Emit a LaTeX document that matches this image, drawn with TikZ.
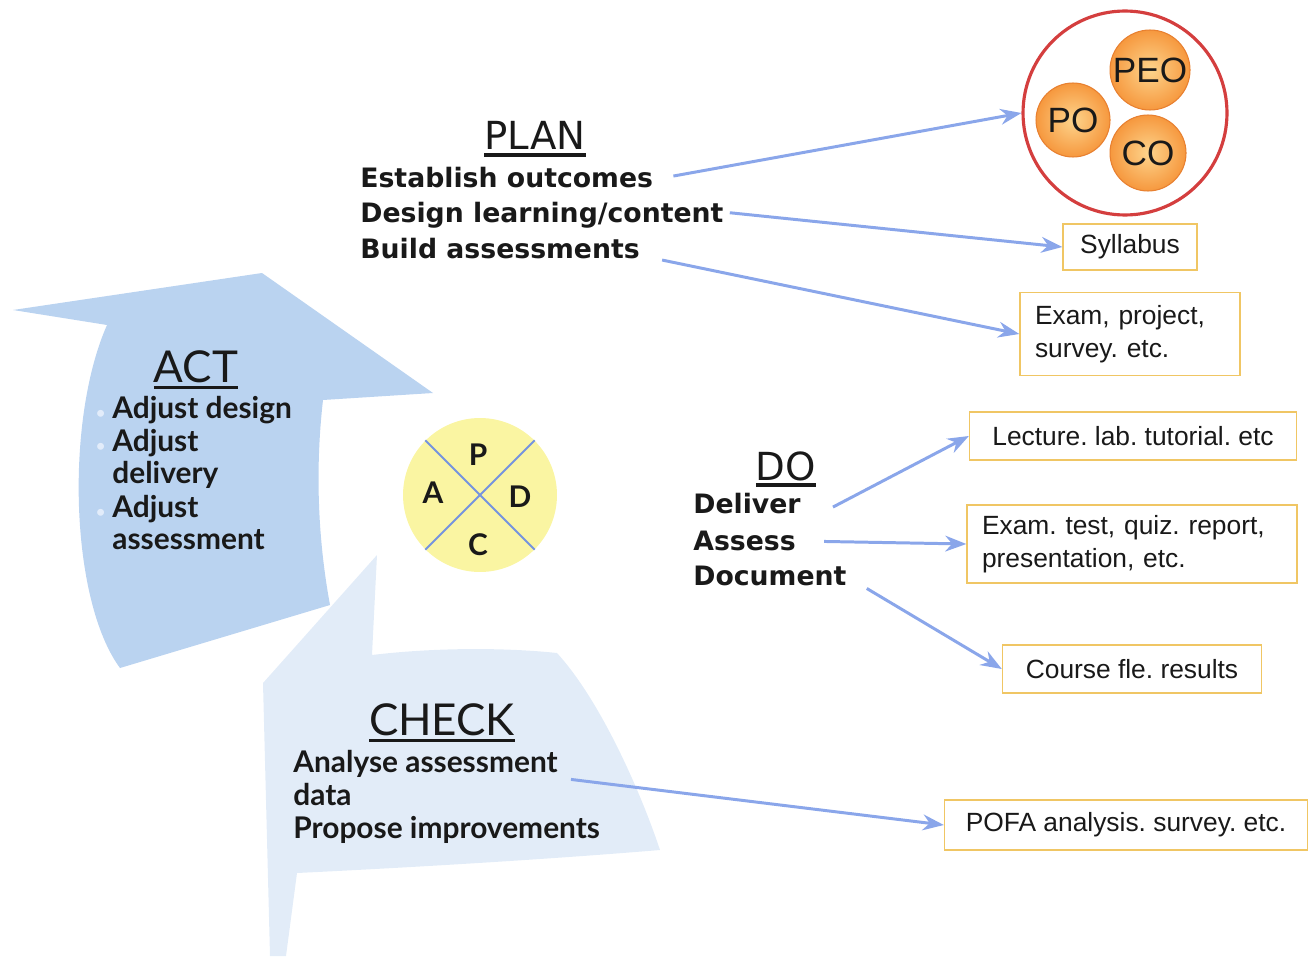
\documentclass[tikz,border=0pt]{standalone}
\usepackage{fontspec}
\setmainfont{Liberation Sans}
\newfontfamily\humfont{Lato}
\newfontfamily\verdfont{DejaVu Sans}
\usetikzlibrary{arrows.meta,calc}
\frenchspacing

\definecolor{ink}{RGB}{25,25,25}
\definecolor{actfill}{RGB}{186,211,240}
\definecolor{checkfill}{RGB}{226,236,248}
\definecolor{flowblue}{RGB}{138,166,234}
\definecolor{crossblue}{RGB}{118,148,222}
\definecolor{padfill}{RGB}{250,245,162}
\definecolor{boxline}{RGB}{240,198,100}
\definecolor{ringred}{RGB}{212,62,62}
\definecolor{ballin}{RGB}{253,212,140}
\definecolor{ballout}{RGB}{246,152,62}
\definecolor{ballrim}{RGB}{232,128,48}
\definecolor{bulc}{RGB}{226,236,250}

% heading with a thick underline
\newcommand{\headline}[3]{\setbox0=\hbox{#3}\leavevmode\rlap{\raisebox{-#1}{\rule{\wd0}{#2}}}\box0}
% hanging bullet for the ACT list
\newcommand{\actbul}{\llap{\textcolor{bulc}{\small\textbullet}\hspace{4pt}}}

\begin{document}
\begin{tikzpicture}[x=0.02cm,y=-0.02cm,
  txt/.style={inner sep=0pt,text=ink},
  planhead/.style={txt,font=\verdfont\fontsize{22}{26}\selectfont},
  plantxt/.style={txt,font=\verdfont\bfseries\fontsize{15.2}{18}\selectfont},
  cyclehead/.style={txt,font=\humfont\fontsize{25}{30}\selectfont},
  cycletxt/.style={txt,font=\humfont\bfseries\fontsize{17}{20}\selectfont},
  outbox/.style={draw=boxline,line width=0.8pt,fill=white,inner sep=0pt,
    text=ink,font=\fontsize{15}{18.5}\selectfont},
  flow/.style={draw=flowblue,line width=1.7pt,
    -{Stealth[length=12pt,width=9pt]}},
  ball/.style={circle,draw=ballrim,line width=0.6pt,inner sep=0pt,
    shading=radial,inner color=ballin,outer color=ballout,
    text=ink,font=\fontsize{20}{24}\selectfont},
  letter/.style={txt,font=\humfont\bfseries\fontsize{17}{20}\selectfont}]

\useasboundingbox (0,0) rectangle (1310,956);

% cycle arrows
\fill[checkfill] (377,555) -- (372,655)
  .. controls (430,648) and (500,647) .. (557,653)
  .. controls (600,700) and (640,790) .. (660,850)
  .. controls (540,860) and (400,868) .. (297,873)
  -- (286,956) -- (270,956) -- (263,683) -- cycle;
\fill[actfill] (13,310) -- (262,273) -- (433,393) -- (323,400)
  .. controls (315,470) and (318,540) .. (330,605)
  -- (120,668)
  .. controls (70,600) and (65,420) .. (107,325) -- cycle;

% PDCA disc
\node[circle,fill=padfill,minimum size=3.08cm,inner sep=0pt] (pdca) at (480,495) {};
\draw[crossblue,line width=1.1pt] (pdca.135) -- (pdca.-45);
\draw[crossblue,line width=1.1pt] (pdca.45) -- (pdca.-135);
\node[letter] (lp) at (478,455) {P};
\node[letter] (la) at (433,493) {A};
\node[letter] (ld) at (520,497) {D};
\node[letter] (lc) at (478,545) {C};

% ACT
\node[cyclehead,anchor=base] (acthd) at (196,382) {\headline{4pt}{1.6pt}{ACT}};
\node[cycletxt,anchor=base west] (a1) at (112,418) {\actbul Adjust design};
\node[cycletxt,anchor=base west] (a2) at (112,451) {\actbul Adjust};
\node[cycletxt,anchor=base west] (a3) at (112,483) {delivery};
\node[cycletxt,anchor=base west] (a4) at (112,517) {\actbul Adjust};
\node[cycletxt,anchor=base west] (a5) at (112,549) {assessment};

% CHECK
\node[cyclehead,anchor=base] (chkhd) at (442,735) {\headline{4pt}{1.6pt}{CHECK}};
\node[cycletxt,anchor=base west] (c1) at (293,772) {Analyse assessment};
\node[cycletxt,anchor=base west] (c2) at (293,805) {data};
\node[cycletxt,anchor=base west] (c3) at (293,838) {Propose improvements};

% PLAN
\node[planhead,anchor=base] (planhd) at (535,150) {\headline{4pt}{2.2pt}{PLAN}};
\node[plantxt,anchor=base west] (p1) at (360,188) {Establish outcomes};
\node[plantxt,anchor=base west] (p2) at (360,222) {Design learning/content};
\node[plantxt,anchor=base west] (p3) at (360,258) {Build assessments};

% DO
\node[planhead,anchor=base] (dohd) at (786,480) {\headline{4pt}{2.2pt}{DO}};
\node[plantxt,anchor=base west] (d1) at (693,513) {Deliver};
\node[plantxt,anchor=base west] (d2) at (693,550) {Assess};
\node[plantxt,anchor=base west] (d3) at (693,585) {Document};

% outcomes ring
\node[circle,draw=ringred,line width=1.8pt,fill=white,minimum size=4.08cm,inner sep=0pt] (ring) at (1125,113) {};
\node[ball,minimum size=1.6cm] (peo) at (1150,70) {PEO};
\node[ball,minimum size=1.48cm] (po) at (1073,120) {PO};
\node[ball,minimum size=1.52cm] (co) at (1148,153) {CO};

% result boxes
\node[outbox,minimum width=2.68cm,minimum height=0.92cm] (syl) at (1130,247) {Syllabus};
\node[outbox,minimum height=1.66cm,text width=3.8cm,inner xsep=0.3cm,align=left] (exp) at (1130,334) {Exam, project,\\survey. etc.};
\node[outbox,minimum width=6.54cm,minimum height=0.96cm] (lec) at (1133,436) {Lecture. lab. tutorial. etc};
\node[outbox,minimum height=1.56cm,text width=6.0cm,inner xsep=0.3cm,align=left] (ext) at (1132,544) {Exam. test, quiz. report,\\presentation, etc.};
\node[outbox,minimum width=5.18cm,minimum height=0.96cm] (crs) at (1132,669) {Course fle. results};
\node[outbox,minimum width=7.26cm,minimum height=1.0cm] (pofa) at (1126,825) {POFA analysis. survey. etc.};

% connectors
\draw[flow] ($(p1.east)+(20,-2)$) -- (ring.west);
\draw[flow] ($(p2.east)+(6,-2)$) -- (syl.west);
\draw[flow] ($(p3.east)+(22,12)$) -- (exp.west);
\draw[flow] ($(d1.east)+(32,4)$) -- (lec.west);
\draw[flow] ($(d2.east)+(28,1)$) -- (ext.west);
\draw[flow] ($(d3.east)+(20,13)$) -- (crs.west);
\draw[flow] ($(c1.east)+(13,16)$) -- (pofa.west);
\end{tikzpicture}
\end{document}
